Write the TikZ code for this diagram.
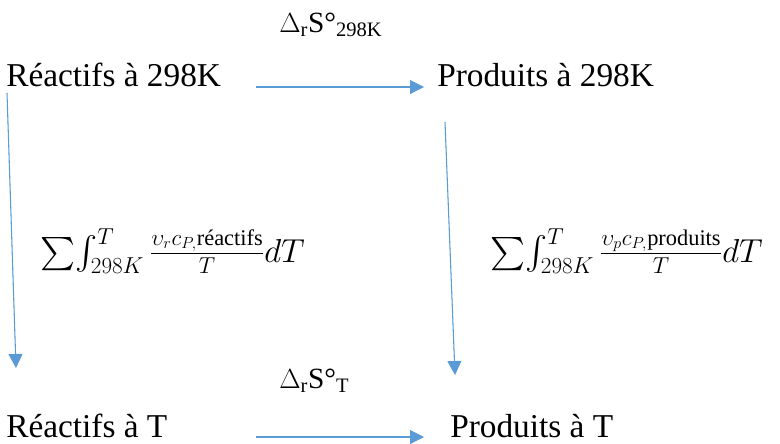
\documentclass[tikz,border=0pt]{standalone}
\usepackage{amsmath}
\usepackage{fontspec}
\setmainfont{Liberation Serif}
\usetikzlibrary{arrows.meta,positioning}
\definecolor{rsblue}{HTML}{5B9BD5}
\definecolor{rsink}{HTML}{000000}
\tikzset{
  rs text/.style={font=\rmfamily\fontsize{25}{28}\selectfont, text=rsink, inner sep=0pt},
  rs label/.style={font=\rmfamily\fontsize{22}{26}\selectfont, text=rsink, inner sep=0pt},
  rs math/.style={font=\fontsize{24}{28}\selectfont, text=rsink, inner sep=0pt},
  rs arrow/.style={-{Triangle[length=10.5pt,width=10.5pt]}, line width=0.8pt,
    draw=rsblue, fill=rsblue}
}
\begin{document}
\begin{tikzpicture}[x=0.75pt, y=-0.75pt]
  \useasboundingbox (0,0) rectangle (780,443);
  % states
  \node[rs text, anchor=base west] (r298) at (6,86) {Réactifs à 298K};
  \node[rs text, anchor=base west] (p298) at (437,86) {Produits à 298K};
  \node[rs text, anchor=base west] (rT) at (6,437) {Réactifs à T};
  \node[rs text, anchor=base west] (pT) at (450,437) {Produits à T};
  % labels
  \node[rs label, anchor=base west] (dS298) at (279,32) {$\Delta$\textsubscript{r}S°\textsubscript{298K}};
  \node[rs label, anchor=base west] (dST) at (279,388) {$\Delta$\textsubscript{r}S°\textsubscript{T}};
  \node[rs math, anchor=west] (intr) at (40,251)
    {$\sum\!\int_{298K}^{T}\frac{\upsilon_r c_{P,}\text{réactifs}}{T}dT$};
  \node[rs math, anchor=west] (intp) at (490,251)
    {$\sum\!\int_{298K}^{T}\frac{\upsilon_p c_{P,}\text{produits}}{T}dT$};
  % arrow ends
  \coordinate (t1) at (256,87);  \coordinate (t2) at (424,87);
  \coordinate (b1) at (256,437); \coordinate (b2) at (424,437);
  \coordinate (l1) at (7,93);    \coordinate (l2) at (16,368);
  \coordinate (q1) at (445,122); \coordinate (q2) at (455,375);
  \draw[rs arrow] (t1) -- (t2);
  \draw[rs arrow] (b1) -- (b2);
  \draw[rs arrow] (l1) -- (l2);
  \draw[rs arrow] (q1) -- (q2);
\end{tikzpicture}
\end{document}
